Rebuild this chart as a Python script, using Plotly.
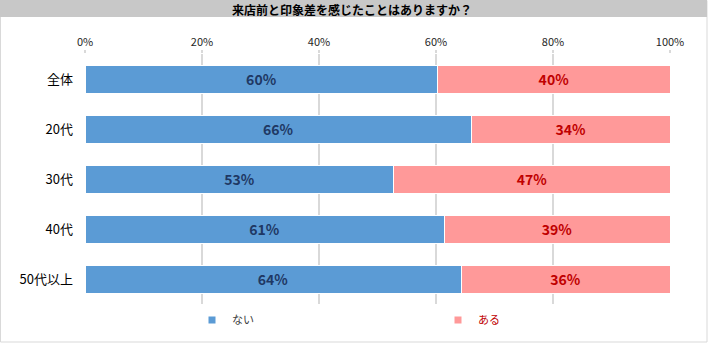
import plotly.graph_objects as go

categories = ["全体", "20代", "30代", "40代", "50代以上"]
nai_values = [60.3, 66.1, 52.8, 61.4, 64.3]
aru_values = [39.7, 33.9, 47.2, 38.6, 35.7]
tick_vals = [0, 20, 40, 60, 80, 100]
tick_text = ["0%", "20%", "40%", "60%", "80%", "100%"]
title_text = "来店前と印象差を感じたことはありますか？"

W, H = 709, 357
L, R, T, B = 85, 39, 54, 53
pw, ph = W - L - R, H - T - B

def px_x(x):
    return (x - L) / pw

def px_y(y):
    return (H - B - y) / ph

JP = "Noto Sans CJK JP"

fig = go.Figure()
fig.add_trace(go.Bar(
    y=categories, x=nai_values, orientation="h", name="ない",
    marker=dict(color="#5B9BD5", line=dict(color="#FFFFFF", width=1)),
    text=[f"{round(v)}%" for v in nai_values], textposition="inside",
    insidetextanchor="middle",
    textfont=dict(family=JP, size=14, color="#1F3864", weight="bold"),
    showlegend=False, hoverinfo="skip",
))
fig.add_trace(go.Bar(
    y=categories, x=aru_values, orientation="h", name="ある",
    marker=dict(color="#FF9999", line=dict(color="#FFFFFF", width=1)),
    text=[f"{round(v)}%" for v in aru_values], textposition="inside",
    insidetextanchor="middle",
    textfont=dict(family=JP, size=14, color="#C00000", weight="bold"),
    showlegend=False, hoverinfo="skip",
))
# legend entries
fig.add_trace(go.Scatter(x=[None], y=[None], mode="markers", name="<span style='color:#404040'>ない</span>",
                         marker=dict(symbol="square", size=7, color="#5B9BD5")))
fig.add_trace(go.Scatter(x=[None], y=[None], mode="markers", name="<span style='color:#C00000'>ある</span>",
                         marker=dict(symbol="square", size=7, color="#FF9999")))

fig.update_layout(
    width=W, height=H,
    margin=dict(l=L, r=R, t=T, b=B, autoexpand=False),
    paper_bgcolor="white", plot_bgcolor="white",
    barmode="stack", bargap=0.44,
    font=dict(family=JP, size=11, color="#262626"),
    xaxis=dict(range=[0, 100], side="top", tickvals=tick_vals, ticktext=tick_text,
               showgrid=True, gridcolor="#D9D9D9", gridwidth=2,
               ticks="outside", ticklen=3, tickcolor="#D9D9D9", tickwidth=2,
               zeroline=False, showline=False,
               tickfont=dict(family=JP, size=11, color="#262626"), fixedrange=True),
    yaxis=dict(autorange="reversed", showgrid=False, zeroline=False, showline=False,
               ticks="", ticklabelstandoff=11,
               tickfont=dict(family=JP, size=13, color="#000000"), fixedrange=True),
    legend=dict(orientation="h", x=px_x(192), y=px_y(320), xanchor="left", yanchor="middle",
                traceorder="normal",
                entrywidthmode="pixels", entrywidth=201, itemsizing="trace",
                font=dict(family=JP, size=11), bgcolor="rgba(0,0,0,0)"),
    showlegend=True,
    shapes=[
        dict(type="rect", xref="paper", yref="paper",
             x0=px_x(0.5), x1=px_x(707), y0=px_y(342), y1=px_y(0.5),
             line=dict(color="#D9D9D9", width=1), fillcolor="rgba(0,0,0,0)", layer="below"),
        dict(type="rect", xref="paper", yref="paper",
             x0=px_x(0), x1=px_x(707), y0=px_y(17), y1=px_y(0),
             line=dict(width=0), fillcolor="#C8C8C8", layer="below"),
    ],
    annotations=[
        dict(text=f"<b>{title_text}</b>", xref="paper", yref="paper",
             x=px_x(352), y=px_y(9), xanchor="center", yanchor="middle",
             showarrow=False, font=dict(family=JP, size=12, color="#000000")),
    ],
)

fig.write_html("out.html", config={"displayModeBar": False},
               post_script="document.body.style.margin='0';document.body.style.overflow='hidden';")
